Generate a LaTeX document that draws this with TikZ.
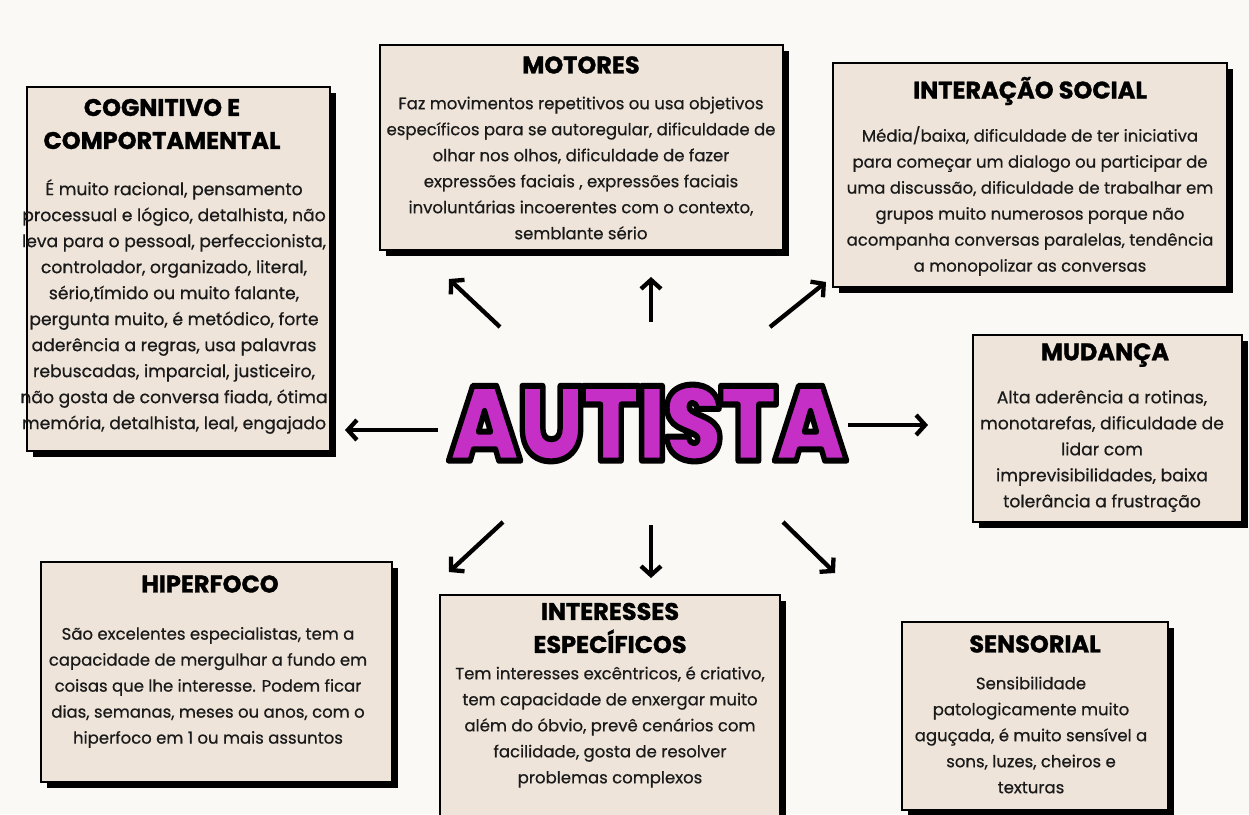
\documentclass[tikz,border=0pt]{standalone}
\usepackage{fontspec}
\setmainfont{Poppins}
\newfontfamily\bodyfont{Poppins}[FakeBold=0.6]
\newfontfamily\titlefont{Poppins}[FakeBold=1.2]
\IfFontExistsTF{Poppins Black}
  {\newfontfamily\autfont{Poppins Black}\def\autweight{}}
  {\newfontfamily\autfont{Poppins}\def\autweight{\bfseries}}
\usetikzlibrary{arrows.meta,shadows}
\definecolor{bgc}{HTML}{FAF9F6}
\definecolor{beige}{HTML}{EEE4D9}
\definecolor{autp}{HTML}{C62FC6}
\definecolor{ink}{HTML}{1A1A1A}
\tikzset{
  card/.style={draw=black, line width=2.2pt, fill=beige, inner sep=0pt,
    drop shadow={shadow xshift=6pt, shadow yshift=-6pt, fill=black, opacity=1}},
  ttl/.style={font=\titlefont\bfseries\fontsize{24}{33}\selectfont, align=center, inner sep=0pt, text=black},
  bdy/.style={font=\bodyfont\fontsize{16.5}{26}\selectfont, align=center, inner sep=0pt, text=ink},
  bdyL/.style={bdy, font=\bodyfont\fontsize{17.2}{26}\selectfont},
  arr/.style={line width=4.3pt, -{Straight Barb[length=9pt,width=20pt]}},
}
\begin{document}
\begin{tikzpicture}[x=1pt,y=-1pt]
\fill[bgc] (0,0) rectangle (1249,814);
\useasboundingbox (0,0) rectangle (1249,814);

% boxes
\node[card, minimum width=303pt, minimum height=364pt] (cog) at (178.5,269) {};
\node[card, minimum width=403pt, minimum height=205pt] (mot) at (581.5,147.5) {};
\node[card, minimum width=394pt, minimum height=224pt] (soc) at (1030,175) {};
\node[card, minimum width=269pt, minimum height=187pt] (mud) at (1107.5,428.5) {};
\node[card, minimum width=351pt, minimum height=220pt] (hip) at (216.5,672) {};
\node[card, minimum width=340pt, minimum height=250pt] (int) at (610,720) {};
\node[card, minimum width=266pt, minimum height=188pt] (sen) at (1035,716) {};

% titles
\node[ttl] (cogT) at (162,124) {COGNITIVO E\\COMPORTAMENTAL};
\node[ttl] (motT) at (581,65) {MOTORES};
\node[ttl] (socT) at (1030,91) {INTERAÇÃO SOCIAL};
\node[ttl] (mudT) at (1105,355) {MUDANÇA};
\node[ttl] (hipT) at (210,584) {HIPERFOCO};
\node[ttl] (intT) at (610,628) {INTERESSES\\ESPECÍFICOS};
\node[ttl] (senT) at (1035,644) {SENSORIAL};

% bodies
\node[bdyL] (cogB) at (174,306.5) {É muito racional, pensamento\\processual e lógico, detalhista, não\\leva para o pessoal, perfeccionista,\\controlador, organizado, literal,\\sério,tímido ou muito falante,\\pergunta muito, é metódico, forte\\aderência a regras, usa palavras\\rebuscadas, imparcial, justiceiro,\\não gosta de conversa fiada, ótima\\memória, detalhista, leal, engajado};
\node[bdy] (motB) at (581,168) {Faz movimentos repetitivos ou usa objetivos\\específicos para se autoregular, dificuldade de\\olhar nos olhos, dificuldade de fazer\\expressões faciais , expressões faciais\\involuntárias incoerentes com o contexto,\\semblante sério};
\node[bdy] (socB) at (1030,201) {Média/baixa, dificuldade de ter iniciativa\\para começar um dialogo ou participar de\\uma discussão, dificuldade de trabalhar em\\grupos muito numerosos porque não\\acompanha conversas paralelas, tendência\\a monopolizar as conversas};
\node[bdyL] (mudB) at (1102,451) {Alta aderência a rotinas,\\monotarefas, dificuldade de\\lidar com\\imprevisibilidades, baixa\\tolerância a frustração};
\node[bdy] (hipB) at (208,687.5) {São excelentes especialistas, tem a\\capacidade de mergulhar a fundo em\\coisas que lhe interesse. Podem ficar\\dias, semanas, meses ou anos, com o\\hiperfoco em 1 ou mais assuntos};
\node[bdy] (intB) at (610,727) {Tem interesses excêntricos, é criativo,\\tem capacidade de enxergar muito\\além do óbvio, prevê cenários com\\facilidade, gosta de resolver\\problemas complexos};
\node[bdy] (senB) at (1031,735) {Sensibilidade\\patologicamente muito\\aguçada, é muito sensível a\\sons, luzes, cheiros e\\texturas};

% central word: purple fill with black stroked outline (text render mode 2)
\node[inner sep=0pt] (aut) at (647.5,423) {\resizebox{398pt}{76pt}{\autfont\autweight\fontsize{105}{110}\selectfont\addfontfeatures{LetterSpace=-3}\color{autp}\special{pdf:literal direct 0 0 0 RG 2 Tr 6 w 1 j}AUTISTA\special{pdf:literal direct 0 Tr 1 w 0 j}}};

% arrow end points
\coordinate (ulS) at (500,327);  \coordinate (ulE) at (449,279);
\coordinate (uS) at (651,322);   \coordinate (uE) at (651,277);
\coordinate (urS) at (770,327);  \coordinate (urE) at (826,282);
\coordinate (lS) at (438,430);   \coordinate (lE) at (345,430);
\coordinate (rS) at (848,425);   \coordinate (rE) at (928,425);
\coordinate (dlS) at (503,522);  \coordinate (dlE) at (449,572);
\coordinate (dS) at (651,525);   \coordinate (dE) at (651,578);
\coordinate (drS) at (783,522);  \coordinate (drE) at (835,573);

\foreach \a in {ul,u,ur,l,r,dl,d,dr} {\draw[arr] (\a S) -- (\a E);}
\end{tikzpicture}
\end{document}
